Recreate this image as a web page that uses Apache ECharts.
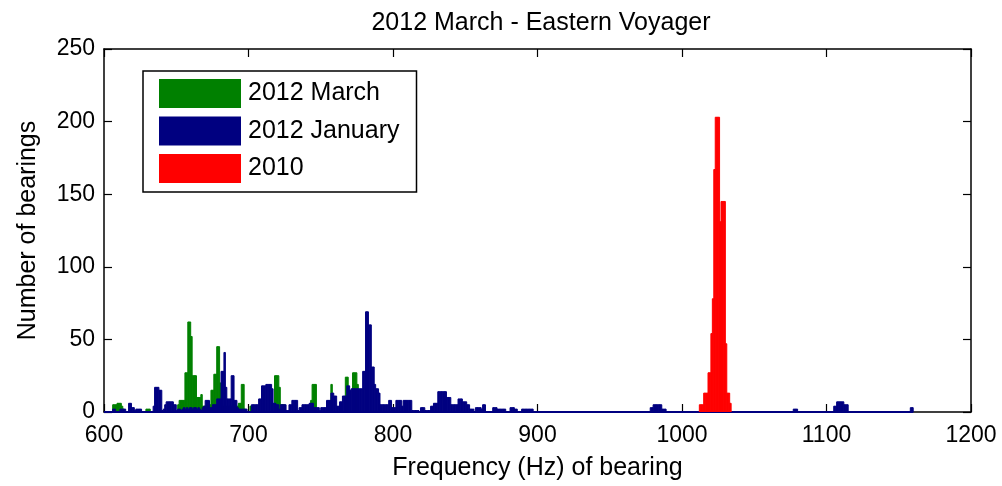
<!DOCTYPE html>
<html><head><meta charset="utf-8">
<script src="https://cdn.jsdelivr.net/npm/echarts@6/dist/echarts.min.js"></script>
<style>html,body{margin:0;padding:0;background:#fff}#c{width:1002px;height:486px}</style>
</head><body><div id="c"></div>
<script>
// Histogram bins: left edge frequency (Hz), 1 Hz wide, with counts
const binWidth = 1;
const seriesNames = ['2012 March', '2012 January', '2010'];
const xTicks = [600, 700, 800, 900, 1000, 1100, 1200];
const yTicks = [0, 50, 100, 150, 200, 250];

const marchBins = [606,607,608,609,610,611,612,613,629,630,631,
  651,652,653,654,655,656,657,658,659,660,661,662,663,664,665,666,667,668,669,670,671,672,673,674,675,676,677,678,679,680,
  681,682,683,684,685,686,687,688,689,690,691,692,693,694,695,696,697,701,702,
  718,719,720,721,722,723,724,743,744,745,746,757,767,768,772,773,774,775];
const marchCounts = [5,5,5,6,6,6,4,2,2,2,2,
  5,8,8,8,8,27,27,62,62,52,25,25,25,10,10,10,12,4,4,4,4,5,5,15,15,26,26,45,45,20,
  4,4,4,4,4,4,4,4,4,4,4,4,6,6,19,19,2,4,4,
  25,25,25,17,5,5,5,8,19,19,19,19,24,24,27,27,27,19];

const janBins = [606,607,611,612,613,614,617,618,619,620,621,622,623,624,625,
  634,635,636,637,638,639,640,641,642,643,644,645,646,647,648,649,
  650,651,652,653,654,655,656,657,658,659,660,661,662,663,664,665,666,667,668,669,
  670,671,672,673,674,675,676,677,678,679,680,681,682,683,684,685,686,687,688,689,690,691,692,693,694,695,696,697,698,
  702,703,704,705,706,707,708,709,710,711,712,713,714,715,716,717,718,719,720,721,722,723,724,725,726,727,
  728,729,730,731,732,733,734,735,736,737,738,739,740,741,742,743,744,745,746,747,748,749,750,751,752,753,
  754,755,756,757,758,759,760,761,762,763,764,765,766,767,768,769,770,771,772,773,774,775,776,777,778,
  779,780,781,782,783,784,785,786,787,788,789,790,
  791,792,793,794,795,796,797,798,799,800,801,802,803,804,805,806,807,808,809,810,811,812,
  813,814,815,816,817,819,820,821,822,823,824,825,826,827,828,829,830,831,832,833,834,835,836,
  837,838,839,840,841,842,843,844,845,846,847,848,849,850,851,852,853,854,855,
  857,858,859,860,861,862,863,869,870,871,872,873,874,875,876,877,881,882,883,884,885,
  889,890,891,892,893,894,895,896,
  978,979,980,981,982,983,984,985,986,987,988,1077,1078,1079,
  1105,1106,1107,1108,1109,1110,1111,1112,1113,1114,1158,1159];
const janCounts = [2,2,2,2,2,2,6,6,3,3,1,2,2,2,2,
  4,17,17,17,15,15,1,2,5,7,7,7,7,7,5,5,
  1,2,2,1,2,3,2,3,2,3,3,2,3,3,2,3,2,1,3,4,
  8,8,8,3,3,5,5,5,9,9,9,28,28,41,17,9,9,9,25,25,8,8,3,2,2,2,2,2,2,
  5,5,5,5,5,9,9,18,18,18,19,19,19,19,16,6,6,5,5,2,5,5,5,5,1,1,
  5,5,8,8,8,8,1,3,3,5,5,5,5,5,6,6,6,3,3,3,3,1,3,3,3,3,
  8,8,8,13,13,11,11,4,4,7,7,11,11,11,18,18,15,16,16,16,16,16,16,16,16,
  28,28,69,69,60,60,31,31,19,16,16,13,
  5,5,5,5,5,5,8,8,3,3,3,8,8,8,8,4,8,8,8,8,8,8,
  1,1,1,1,1,3,3,3,1,1,1,1,4,4,6,6,6,14,14,14,14,14,14,
  10,10,10,5,5,5,5,5,9,9,9,7,7,7,5,5,2,2,2,
  3,3,3,3,2,5,5,3,3,3,2,2,2,2,2,2,3,3,3,2,2,
  2,2,2,2,2,2,2,2,
  3,3,5,5,5,5,5,5,2,2,2,2,2,2,
  4,4,7,7,7,7,7,5,5,5,3,3];
const janRange = [600, 1160];

const y2010Bins = [1012,1013,1014,1015,1016,1017,1018,1019,1020,1021,1022,1023,1024,1025,1026,1027,1028,1029,1030,1031,1032,1033];
const y2010Counts = [5,5,5,13,13,13,27,27,54,78,167,203,203,203,131,145,145,145,47,13,13,6];

const colors = ['#008000', '#000080', '#ff0000'];
const FONT = 'Liberation Sans, Arial, sans-serif';

function hist(name, bins, counts, color, z) {
  return {
    type: 'custom', name: name, z: z, clip: true,
    itemStyle: { color: color },
    data: bins.map((b, i) => [b, counts[i]]),
    encode: { x: 0, y: 1 },
    renderItem: function (params, api) {
      const x0 = api.value(0), v = api.value(1);
      const p0 = api.coord([x0, 0]);
      const p1 = api.coord([x0 + binWidth, v]);
      return { type: 'rect',
        shape: { x: p0[0], y: p1[1], width: p1[0] - p0[0], height: p0[1] - p1[1] },
        style: { fill: color, stroke: color, lineWidth: 1 } };
    }
  };
}

const chart = echarts.init(document.getElementById('c'), null, { renderer: 'canvas' });
const plainNum = function (v) { return String(v); };
const axisCommon = {
  type: 'value', min: xTicks[0], max: xTicks[xTicks.length - 1], interval: 100,
  axisLine: { show: true, onZero: false, lineStyle: { color: '#000', width: 1.5 } },
  axisTick: { show: true, inside: true, length: 8, lineStyle: { color: '#000', width: 1.2 } },
  splitLine: { show: false }
};
const yCommon = {
  type: 'value', min: yTicks[0], max: yTicks[yTicks.length - 1], interval: 50,
  axisLine: { show: true, onZero: false, lineStyle: { color: '#000', width: 1.5 } },
  axisTick: { show: true, inside: true, length: 8, lineStyle: { color: '#000', width: 1.2 } },
  splitLine: { show: false }
};
chart.setOption({
  animation: false,
  backgroundColor: '#fff',
  title: { text: '2012 March - Eastern Voyager', left: 536, top: 6, textAlign: 'center',
    textStyle: { fontFamily: FONT, fontSize: 25, fontWeight: 'normal', color: '#000' } },
  grid: { left: 104, right: 31, top: 49, bottom: 72 },
  legend: {
    data: seriesNames, orient: 'vertical', left: 143, top: 71, icon: 'rect',
    itemWidth: 82, itemHeight: 29, itemGap: 8.5, padding: [8, 17, 9, 16],
    borderColor: '#000', borderWidth: 1.5, backgroundColor: '#fff', selectedMode: false,
    textStyle: { fontFamily: FONT, fontSize: 25, color: '#000', padding: [8, 0, 0, 2] }
  },
  xAxis: [
    Object.assign({}, axisCommon, { position: 'bottom',
      name: 'Frequency (Hz) of bearing', nameLocation: 'middle', nameGap: 44,
      nameTextStyle: { fontFamily: FONT, fontSize: 25, color: '#000' },
      axisLabel: { fontFamily: FONT, fontSize: 23, color: '#000', margin: 12, formatter: plainNum } }),
    Object.assign({}, axisCommon, { position: 'top', axisLabel: { show: false } })
  ],
  yAxis: [
    Object.assign({}, yCommon, { position: 'left',
      name: 'Number of bearings', nameLocation: 'middle', nameGap: 63, nameRotate: 90,
      nameTextStyle: { fontFamily: FONT, fontSize: 25, color: '#000' },
      axisLabel: { fontFamily: FONT, fontSize: 23, color: '#000', margin: 9, formatter: plainNum } }),
    Object.assign({}, yCommon, { position: 'right', axisLabel: { show: false } })
  ],
  series: [
    hist(seriesNames[0], marchBins, marchCounts, colors[0], 2),
    hist(seriesNames[1], janBins, janCounts, colors[1], 3),
    { type: 'line', name: 'baseline', z: 3, silent: true, symbol: 'none',
      data: [[janRange[0], 0], [janRange[1], 0]],
      lineStyle: { color: colors[1], width: 2 } },
    hist(seriesNames[2], y2010Bins, y2010Counts, colors[2], 4)
  ]
});
</script></body></html>
